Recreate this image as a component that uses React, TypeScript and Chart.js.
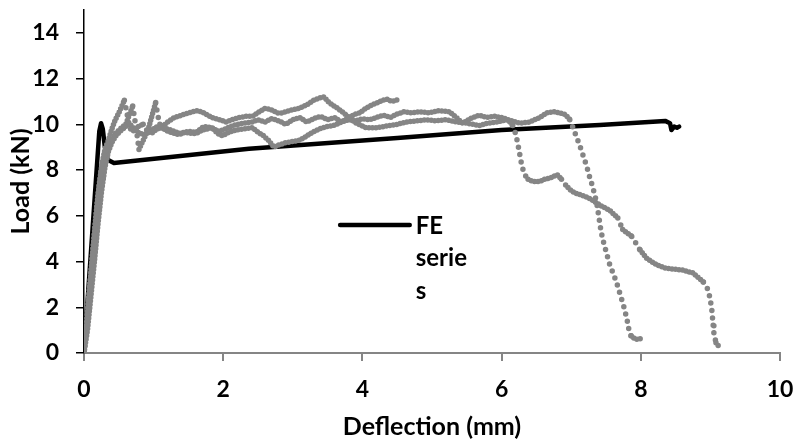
import React, { useEffect, useRef } from "react";
import { Chart, registerables } from "chart.js";

Chart.register(...registerables);

// FE model series (deflection mm, load kN)
const feSeries: [number, number][] = [
  [0, 0], [0.22, 9.7], [0.245, 10.05], [0.27, 9.8], [0.3, 9.0], [0.34, 8.45], [0.43, 8.31],
  [2.37, 8.93], [4.5, 9.4], [6.0, 9.75], [7.41, 9.97], [8.35, 10.15], [8.42, 10.05],
  [8.44, 9.75], [8.48, 9.9], [8.52, 9.85], [8.55, 9.9],
];

// Test specimen 1 (ends early)
const test1: [number, number][] = [
  [0, 0], [0.03, 1.0], [0.06, 2.2], [0.1, 3.5], [0.14, 4.9], [0.18, 6.2], [0.22, 7.4], [0.26, 8.3],
  [0.3, 8.9], [0.35, 9.3], [0.4, 9.8], [0.45, 10.2], [0.5, 10.5], [0.55, 10.85], [0.58, 11.05],
  [0.61, 10.6], [0.64, 10.1], [0.67, 9.8], [0.72, 9.7], [0.78, 9.9], [0.85, 10.0], [0.9, 9.75],
  [0.97, 9.6], [1.05, 9.8], [1.12, 9.85], [1.2, 9.7], [1.3, 9.6], [1.37, 9.55], [1.45, 9.65],
  [1.55, 9.6], [1.61, 9.6], [1.7, 9.75], [1.84, 9.85], [1.92, 9.6], [1.99, 9.5], [2.08, 9.65],
  [2.19, 9.75], [2.3, 9.8], [2.42, 9.85], [2.5, 9.65], [2.58, 9.5], [2.65, 9.3], [2.73, 9.0],
  [2.8, 9.1], [2.9, 9.2], [3.0, 9.25], [3.09, 9.3], [3.18, 9.45], [3.28, 9.65], [3.38, 9.8],
  [3.48, 9.9], [3.58, 9.95], [3.67, 10.05], [3.75, 10.2], [3.81, 10.3], [3.9, 10.45], [3.96, 10.5],
  [4.05, 10.7], [4.14, 10.85], [4.22, 10.95], [4.29, 11.05], [4.36, 11.1], [4.42, 11.0],
  [4.49, 11.05], [4.53, 11.15],
];

// Test specimen 2 (longest tail)
const test2: [number, number][] = [
  [0, 0], [0.04, 1.3], [0.08, 2.8], [0.12, 4.2], [0.16, 5.6], [0.2, 6.9], [0.25, 8.0], [0.3, 8.7],
  [0.35, 9.1], [0.4, 9.3], [0.45, 9.6], [0.52, 9.8], [0.6, 10.0], [0.65, 10.4], [0.7, 10.8],
  [0.73, 10.2], [0.76, 9.6], [0.79, 8.9], [0.82, 9.1], [0.85, 9.3], [0.92, 9.75], [0.97, 10.3],
  [1.03, 10.95], [1.06, 10.4], [1.09, 10.0], [1.13, 9.9], [1.2, 10.1], [1.3, 10.3], [1.4, 10.4],
  [1.5, 10.5], [1.63, 10.6], [1.72, 10.5], [1.84, 10.3], [1.95, 10.2], [2.04, 10.1], [2.12, 10.2],
  [2.23, 10.3], [2.33, 10.35], [2.42, 10.35], [2.52, 10.55], [2.6, 10.7], [2.68, 10.65],
  [2.78, 10.5], [2.85, 10.5], [2.95, 10.6], [3.09, 10.7], [3.2, 10.85], [3.3, 11.05], [3.38, 11.15],
  [3.45, 11.2], [3.52, 10.95], [3.62, 10.75], [3.71, 10.55], [3.81, 10.3], [3.91, 10.05],
  [4.05, 9.85], [4.2, 9.85], [4.3, 9.9], [4.39, 9.95], [4.5, 10.0], [4.63, 10.1], [4.78, 10.15],
  [4.92, 10.2], [5.05, 10.15], [5.2, 10.2], [5.35, 10.1], [5.5, 10.05], [5.68, 9.95], [5.8, 10.05],
  [5.93, 10.1], [6.07, 10.2], [6.12, 10.1], [6.16, 9.95], [6.2, 9.6], [6.23, 9.2], [6.26, 8.7],
  [6.29, 8.2], [6.33, 7.8], [6.38, 7.6], [6.45, 7.5], [6.55, 7.5], [6.62, 7.6], [6.7, 7.65],
  [6.8, 7.8], [6.86, 7.6], [6.92, 7.35], [6.98, 7.15], [7.05, 7.0], [7.2, 6.85], [7.3, 6.7],
  [7.37, 6.55], [7.45, 6.4], [7.55, 6.25], [7.67, 5.9], [7.74, 5.4], [7.87, 5.1], [7.99, 4.5],
  [8.08, 4.15], [8.23, 3.85], [8.37, 3.7], [8.6, 3.63], [8.75, 3.5], [8.9, 3.1], [8.97, 2.75],
  [9.0, 2.3], [9.02, 1.9], [9.04, 1.2], [9.05, 0.87], [9.08, 0.45], [9.14, 0.22],
];

// Test specimen 3
const test3: [number, number][] = [
  [0, 0], [0.05, 1.0], [0.1, 2.5], [0.15, 4.0], [0.2, 5.6], [0.25, 7.0], [0.3, 8.1], [0.35, 8.8],
  [0.4, 9.2], [0.46, 9.5], [0.52, 9.7], [0.6, 9.9], [0.65, 10.05], [0.72, 9.8], [0.8, 9.6],
  [0.88, 9.55], [0.95, 9.7], [1.05, 9.9], [1.15, 9.85], [1.25, 9.75], [1.37, 9.6], [1.5, 9.7],
  [1.61, 9.65], [1.72, 9.9], [1.84, 9.85], [1.92, 9.7], [2.0, 9.75], [2.1, 9.9], [2.2, 10.0],
  [2.3, 10.05], [2.42, 10.1], [2.5, 10.2], [2.6, 10.1], [2.7, 10.25], [2.8, 10.15], [2.9, 10.0],
  [3.0, 10.2], [3.1, 10.3], [3.2, 10.1], [3.3, 10.25], [3.4, 10.35], [3.5, 10.2], [3.6, 10.3],
  [3.7, 10.1], [3.8, 10.2], [3.9, 10.15], [4.0, 10.25], [4.1, 10.2], [4.2, 10.3], [4.3, 10.4],
  [4.4, 10.3], [4.5, 10.45], [4.6, 10.55], [4.7, 10.5], [4.82, 10.55], [4.96, 10.5], [5.1, 10.6],
  [5.25, 10.55], [5.35, 10.3], [5.44, 10.05], [5.55, 10.25], [5.68, 10.4], [5.78, 10.3],
  [5.9, 10.35], [6.0, 10.3], [6.1, 10.2], [6.26, 10.05], [6.4, 10.1], [6.55, 10.3], [6.65, 10.5],
  [6.75, 10.55], [6.83, 10.5], [6.9, 10.45], [6.94, 10.35], [6.98, 10.2], [7.02, 9.9], [7.07, 9.5],
  [7.12, 9.1], [7.17, 8.65], [7.22, 8.2], [7.26, 7.75], [7.3, 7.35], [7.34, 6.9], [7.37, 6.5],
  [7.39, 6.1], [7.41, 5.7], [7.43, 5.3], [7.46, 4.9], [7.5, 4.45], [7.55, 3.9], [7.6, 3.5],
  [7.65, 3.1], [7.7, 2.6], [7.75, 2.1], [7.8, 1.5], [7.83, 1.0], [7.86, 0.75], [7.92, 0.6],
  [7.98, 0.6], [8.03, 0.7],
];

const xTitle = "Deflection (mm)";
const yTitle = "Load (kN)";
const legendLines = ["FE", "serie", "s"];
const xRange = [0, 10];
const yRange = [0, 15];
const tickStep = 2;

const toXY = (arr: [number, number][]) => arr.map(([x, y]) => ({ x, y }));

const GRAY = "#858585";
const FONT = "Lato";

const grayDash = (ctx: any) => {
  const dx = Math.abs(ctx.p1.x - ctx.p0.x);
  const dy = ctx.p1.y - ctx.p0.y;
  return dy > 1.3 * dx && dy > 2 ? [0, 7.5] : [0, 3.5];
};

export default function App() {
  const ref = useRef<HTMLCanvasElement | null>(null);
  useEffect(() => {
    if (!ref.current) return;
    const legend = {
      id: "feLegend",
      afterDraw(chart: any) {
        const { ctx, chartArea } = chart;
        const w = chartArea.right - chartArea.left;
        const h = chartArea.bottom - chartArea.top;
        const lx0 = chartArea.left + w * 0.368;
        const lx1 = chartArea.left + w * 0.468;
        const ly = chartArea.top + h * 0.627;
        ctx.save();
        ctx.strokeStyle = "#000";
        ctx.lineWidth = 4.5;
        ctx.lineCap = "round";
        ctx.beginPath();
        ctx.moveTo(lx0, ly);
        ctx.lineTo(lx1, ly);
        ctx.stroke();
        ctx.fillStyle = "#000";
        ctx.font = `bold 24px ${FONT}`;
        ctx.textAlign = "left";
        ctx.textBaseline = "middle";
        legendLines.forEach((t, i) => {
          ctx.fillText(t, lx1 + 6, ly + 1 + i * 32.5);
        });
        ctx.restore();
      },
    };
    const common = {
      showLine: true,
      pointRadius: 0,
      borderWidth: 5.5,
      borderColor: GRAY,
      backgroundColor: GRAY,
      borderCapStyle: "round",
      borderJoinStyle: "round",
      tension: 0,
      order: 1,
      segment: { borderDash: grayDash },
    };
    const tickFont = { family: FONT, size: 23, weight: "bold" };
    const titleFont = { family: FONT, size: 25, weight: "bold" };
    const chart = new Chart(ref.current, {
      type: "scatter",
      data: {
        datasets: [
          { ...common, label: "Test 1", data: toXY(test1) },
          { ...common, label: "Test 2", data: toXY(test2) },
          { ...common, label: "Test 3", data: toXY(test3) },
          {
            label: "FE series",
            data: toXY(feSeries),
            showLine: true,
            pointRadius: 0,
            borderWidth: 4.5,
            borderColor: "#000",
            backgroundColor: "#000",
            borderCapStyle: "round",
            borderJoinStyle: "round",
            tension: 0,
            order: 2,
          },
        ],
      },
      options: {
        animation: false,
        responsive: false,
        devicePixelRatio: 1,
        layout: { padding: { top: 10, right: 18, left: 0, bottom: 0 } },
        plugins: { legend: { display: false }, tooltip: { enabled: false } },
        scales: {
          x: {
            type: "linear",
            min: xRange[0],
            max: xRange[1],
            afterFit: (s: any) => {
              s.height = 92;
              s.paddingLeft = 0;
              s.paddingRight = 0;
            },
            ticks: {
              stepSize: tickStep,
              includeBounds: false,
              color: "#000",
              padding: 15,
              font: tickFont,
            },
            grid: { drawOnChartArea: false, drawTicks: true, tickLength: 8, color: GRAY, lineWidth: 2 },
            border: { display: true, color: GRAY, width: 2 },
            title: {
              display: true,
              text: xTitle,
              color: "#000",
              font: titleFont,
              padding: { top: 0, bottom: 3 },
            },
          },
          y: {
            type: "linear",
            min: yRange[0],
            max: yRange[1],
            afterFit: (s: any) => {
              s.width = 84;
              s.paddingTop = 0;
              s.paddingBottom = 0;
            },
            ticks: {
              stepSize: tickStep,
              includeBounds: false,
              color: "#000",
              padding: 17,
              font: tickFont,
            },
            grid: { drawOnChartArea: false, drawTicks: true, tickLength: 8, color: "#000", lineWidth: 1.5 },
            border: { display: true, color: "#000", width: 1.5 },
            title: {
              display: true,
              text: yTitle,
              color: "#000",
              font: titleFont,
              padding: { top: 6, bottom: 0 },
            },
          },
        },
      },
      plugins: [legend],
    } as any);
    return () => chart.destroy();
  }, []);
  return (
    <div style={{ position: "fixed", left: 0, top: 0, width: 798, height: 445, background: "#fff" }}>
      <canvas ref={ref} width={798} height={445} style={{ display: "block" }} />
    </div>
  );
}
